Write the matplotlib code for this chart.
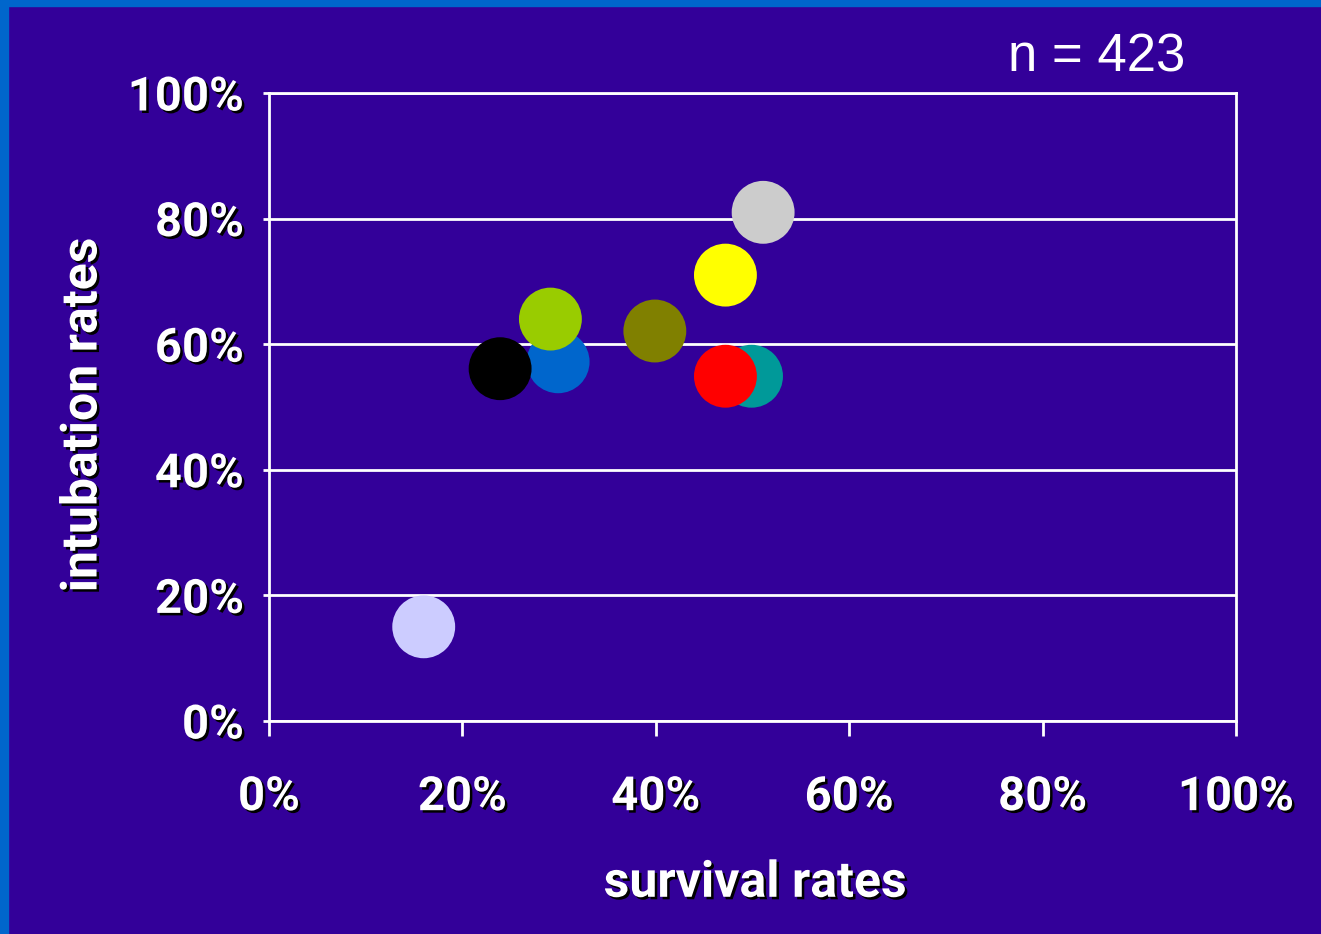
import matplotlib
matplotlib.use("Agg")
import matplotlib.pyplot as plt
import matplotlib.patheffects as pe
from matplotlib.patches import Rectangle
from matplotlib.ticker import PercentFormatter

# survival vs intubation rate per group
survival = [49.9, 47.2, 29.9, 23.9, 29.1, 39.9, 47.2, 51.1, 16.0]
intubation = [54.9, 54.9, 57.2, 56.1, 64.0, 62.1, 71.0, 81.0, 15.0]
colors = ['#009999', '#ff0000', '#0066cc', '#000000', '#99cc00',
          '#808000', '#ffff00', '#cccccc', '#ccccff']
ticks = [0, 20, 40, 60, 80, 100]
n_label = "n = 423"

bg = '#330099'
frame = '#0066cc'
font = ['Roboto', 'DejaVu Sans']
shadow = [pe.withSimplePatchShadow(offset=(1.8, -1.8), shadow_rgbFace='black', alpha=1.0)]

fig = plt.figure(figsize=(13.21, 9.34), dpi=100, facecolor=bg)
fig.patches.append(Rectangle((0, 0), 8 / 1321, 1, transform=fig.transFigure,
                             color=frame, zorder=0))
fig.patches.append(Rectangle((0, 1 - 6 / 934), 1, 6 / 934, transform=fig.transFigure,
                             color=frame, zorder=0))

ax = fig.add_axes([269 / 1321, 213 / 934, 967 / 1321, 628 / 934])
ax.set_facecolor(bg)
ax.set_xlim(0, 100)
ax.set_ylim(0, 100)

for s in ax.spines.values():
    s.set_color('white')
    s.set_linewidth(2)

ax.set_xticks(ticks)
ax.set_yticks(ticks)
ax.xaxis.set_major_formatter(PercentFormatter(decimals=0))
ax.yaxis.set_major_formatter(PercentFormatter(decimals=0))
ax.tick_params(axis='x', colors='white', length=11, width=2, pad=28)
ax.tick_params(axis='y', colors='white', length=4, width=2, pad=14)
ax.yaxis.grid(True, color='white', linewidth=2)
ax.set_axisbelow(True)

for lab in ax.get_xticklabels() + ax.get_yticklabels():
    lab.set_family(font)
    lab.set_fontweight('bold')
    lab.set_fontsize(34)
    lab.set_color('white')
    lab.set_path_effects(shadow)

ax.scatter(survival, intubation, s=2050, c=colors, linewidths=0, zorder=3, clip_on=False)

ax.set_xlabel('survival rates', family=font, fontweight='bold', fontsize=36,
              color='white', path_effects=shadow)
ax.set_ylabel('intubation rates', family=font, fontweight='bold', fontsize=36,
              color='white', path_effects=shadow)
ax.xaxis.set_label_coords(0.5026, -0.221)
ax.yaxis.set_label_coords(-0.168, 0.487)

fig.text(1097 / 1321, 1 - 58 / 934, n_label, family=['Liberation Sans', 'DejaVu Sans'],
         fontsize=38, color='white', ha='center', va='center')

fig.savefig('out.png', dpi=100, facecolor=bg)
